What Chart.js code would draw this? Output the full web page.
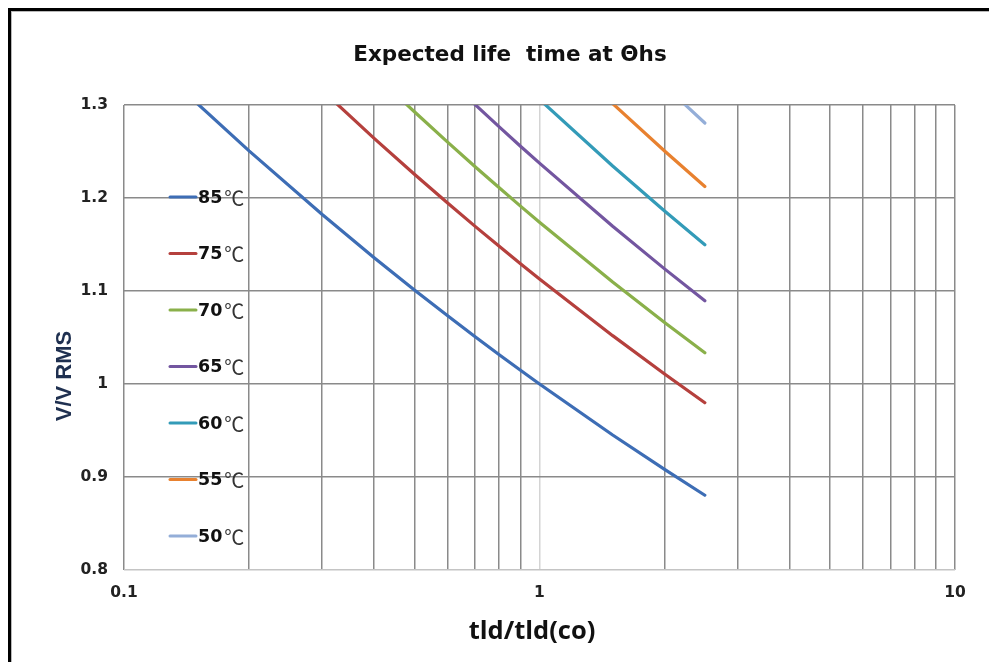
<!DOCTYPE html>
<html>
<head>
<meta charset="utf-8">
<script src="https://cdn.jsdelivr.net/npm/chart.js@4"></script>
<style>
  html, body { margin: 0; padding: 0; background: #fff; overflow: hidden; }
  #wrap { position: relative; width: 989px; height: 662px; }
  #frame {
    position: absolute; left: 8px; top: 8px; width: 1200px; height: 900px;
    border-top: 3px solid #000; border-left: 3px solid #000;
    box-shadow: inset 1px 1px 0 #b8b8b8;
  }
  canvas { position: absolute; left: 0; top: 0; }
</style>
</head>
<body>
<div id="wrap">
  <div id="frame"></div>
  <canvas id="lifeChart" width="989" height="662"></canvas>
</div>
<script>
const TITLE = "Expected life  time at \u0398hs";
const X_TITLE = "tld/tld(co)";
const Y_TITLE = "V/V RMS";

// tld/tld(co) positions where the curves were read
const tRatio = [0.15, 0.2, 0.3, 0.4, 0.5, 0.6, 0.7, 0.8, 0.9, 1, 1.5, 2, 2.5];

const temps = ["85", "75", "70", "65", "60", "55", "50"];
const v85 = [1.3017, 1.2507, 1.1822, 1.1358, 1.1011, 1.0736, 1.0508, 1.0315, 1.0148, 1.0000, 0.9452, 0.9082, 0.8804];
const v75 = [null, null, 1.3158, 1.2641, 1.2255, 1.1949, 1.1695, 1.1481, 1.1294, 1.1130, 1.0520, 1.0108, 0.9799];
const v70 = [null, null, null, 1.3334, 1.2927, 1.2604, 1.2336, 1.2110, 1.1913, 1.1740, 1.1097, 1.0662, 1.0336];
const v65 = [null, null, null, null, null, 1.3286, 1.3004, 1.2765, 1.2557, 1.2375, 1.1697, 1.1238, 1.0895];
const v60 = [null, null, null, null, null, null, null, null, 1.3253, 1.3060, 1.2344, 1.1860, 1.1498];
const v55 = [null, null, null, null, null, null, null, null, null, 1.3770, 1.3015, 1.2505, 1.2123];
const v50 = [null, null, null, null, null, null, null, null, null, null, 1.3748, 1.3209, 1.2806];
const seriesValues = [v85, v75, v70, v65, v60, v55, v50];

const COLORS = ["#3d6db5", "#b5403d", "#8ab04a", "#7356a0", "#339bb8", "#e8812f", "#94aed8"];

const xGridValues = [0.1, 0.2, 0.3, 0.4, 0.5, 0.6, 0.7, 0.8, 0.9, 1, 2, 3, 4, 5, 6, 7, 8, 9, 10];
const xLabelValues = [0.1, 1, 10];
const yMin = 0.8, yMax = 1.3, yStep = 0.1;

const TICK_FONT = { family: "DejaVu Sans", weight: "bold", size: 15.5 };

function toPoints(values) {
  const pts = [];
  values.forEach((v, i) => { if (v !== null) pts.push({ x: tRatio[i], y: v }); });
  return pts;
}

// titles and the in-plot legend, placed like the Excel original
const decorPlugin = {
  id: "decor",
  afterDraw(chart) {
    const ctx = chart.ctx;
    ctx.save();
    ctx.fillStyle = "#111";
    ctx.textAlign = "center";
    ctx.textBaseline = "middle";
    ctx.font = "bold 21.5px 'DejaVu Sans'";
    ctx.fillText(TITLE, 510, 55);

    ctx.font = "bold 25.5px 'Open Sans'";
    ctx.fillText(X_TITLE, 532, 632);

    ctx.save();
    ctx.translate(65, 376);
    ctx.rotate(-Math.PI / 2);
    ctx.fillStyle = "#1f3050";
    ctx.font = "bold 22px 'Liberation Sans'";
    ctx.fillText(Y_TITLE, 0, 0);
    ctx.restore();

    // legend
    const top = 197, gap = 56.5;
    chart.data.datasets.forEach((ds, i) => {
      const y = top + i * gap;
      ctx.strokeStyle = ds.borderColor;
      ctx.lineWidth = 3;
      ctx.lineCap = "round";
      ctx.beginPath();
      ctx.moveTo(170, y);
      ctx.lineTo(196, y);
      ctx.stroke();
      ctx.textAlign = "left";
      ctx.fillStyle = "#111";
      ctx.font = "bold 17.5px 'DejaVu Sans'";
      ctx.fillText(temps[i], 198, y + 1);
      const w = ctx.measureText(temps[i]).width;
      ctx.fillStyle = "#333";
      ctx.font = "20px 'Noto Sans CJK SC'";
      ctx.fillText("\u2103", 198 + w + 2, y + 1);
    });
    ctx.restore();
  },
};

new Chart(document.getElementById("lifeChart"), {
  type: "line",
  data: {
    datasets: seriesValues.map((vals, i) => ({
      label: temps[i] + "\u2103",
      data: toPoints(vals),
      borderColor: COLORS[i],
      backgroundColor: COLORS[i],
      borderWidth: 3.2,
      borderCapStyle: "round",
      borderJoinStyle: "round",
      pointRadius: 0,
      tension: 0,
      clip: 0,
    })),
  },
  options: {
    responsive: false,
    animation: false,
    devicePixelRatio: 1,
    layout: { padding: { top: 105, left: 0, right: 34, bottom: 0 } },
    plugins: {
      legend: { display: false },
      title: { display: false },
      tooltip: { enabled: false },
    },
    scales: {
      x: {
        type: "logarithmic",
        min: 0.1,
        max: 10,
        afterBuildTicks: (scale) => { scale.ticks = xGridValues.map((v) => ({ value: v })); },
        afterFit: (scale) => { scale.height = 92; },
        border: { display: false },
        grid: {
          drawTicks: false,
          lineWidth: 1.5,
          color: (c) => (c.tick && c.tick.value === 1 ? "#d4d4d4" : "#8a8a8a"),
        },
        ticks: {
          autoSkip: false,
          maxRotation: 0,
          padding: 14,
          color: "#222",
          font: TICK_FONT,
          callback: (v) => (xLabelValues.includes(v) ? String(v) : ""),
        },
      },
      y: {
        min: yMin,
        max: yMax,
        afterFit: (scale) => { scale.width = 124; },
        border: { display: false },
        grid: {
          drawTicks: false,
          lineWidth: 1.5,
          color: (c) => (c.tick && Math.abs(c.tick.value - yMin) < 1e-6 ? "#c4c4c4" : "#8a8a8a"),
        },
        ticks: {
          stepSize: yStep,
          padding: 16,
          color: "#222",
          font: TICK_FONT,
          callback: (v) => String(Math.round(v * 10) / 10),
        },
      },
    },
  },
  plugins: [decorPlugin],
});
</script>
</body>
</html>
